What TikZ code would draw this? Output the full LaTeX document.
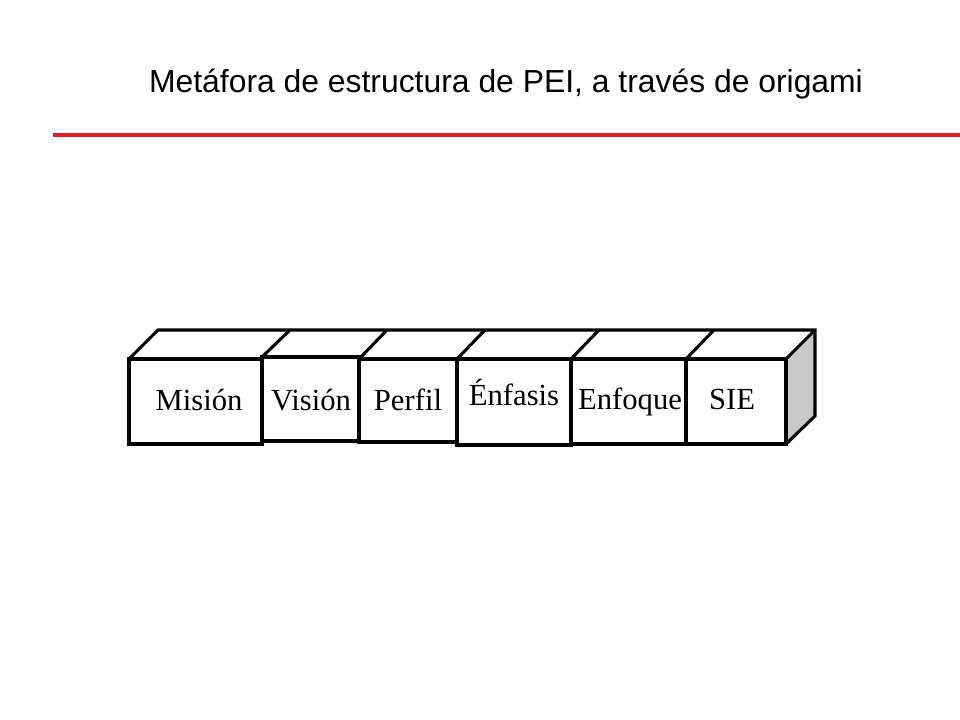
\documentclass[tikz,border=0pt]{standalone}
\usepackage{fontspec}
\setmainfont{Liberation Serif}
\newfontfamily\titlefont{Liberation Sans}
\usepackage{tikz}

\definecolor{titlered}{RGB}{227,30,36}
\definecolor{sidegray}{RGB}{200,200,200}

\begin{document}
\begin{tikzpicture}[x=0.75pt, y=-0.75pt,
  face/.style = {draw, line width=2.3pt, line join=miter},
  lbl/.style = {anchor=base, inner sep=0pt,
    font=\fontsize{23}{27}\selectfont}]
  \useasboundingbox (0,0) rectangle (960,720);

  % titulo
  \node[anchor=base, inner sep=0pt, font=\titlefont\fontsize{23.9}{28}\selectfont]
    (titulo) at (506,93) {Metáfora de estructura de PEI, a través de origami};
  \draw[titlered, line width=2.3pt] (53,135) -- (960,135);

  % cara lateral
  \fill[sidegray] (786,359) -- (815,330) -- (815,416) -- (786,444) -- cycle;

  % cara superior y borde trasero
  \draw[face] (129,359) -- (158,330) -- (815,330) -- (815,416) -- (786,444);
  \draw[face] (262,357) -- (290,330);
  \draw[face] (359,359) -- (387,330);
  \draw[face] (457,359) -- (485,330);
  \draw[face] (571,359) -- (599,330);
  \draw[face] (686,359) -- (714,330);
  \draw[face] (786,359) -- (815,330);

  % caras frontales
  \draw[face] (129,359) rectangle (262,444);
  \draw[face] (262,357) rectangle (359,441);
  \draw[face] (359,359) rectangle (457,442);
  \draw[face] (457,359) rectangle (571,445);
  \draw[face] (571,359) rectangle (686,444);
  \draw[face] (686,359) rectangle (786,444);

  \node[lbl] (mision)  at (199,410) {Misión};
  \node[lbl] (vision)  at (311,410) {Visión};
  \node[lbl] (perfil)  at (408,410) {Perfil};
  \node[lbl] (enfasis) at (514,405) {Énfasis};
  \node[lbl] (enfoque) at (630,409) {Enfoque};
  \node[lbl] (sie)     at (732,409) {SIE};
\end{tikzpicture}
\end{document}
